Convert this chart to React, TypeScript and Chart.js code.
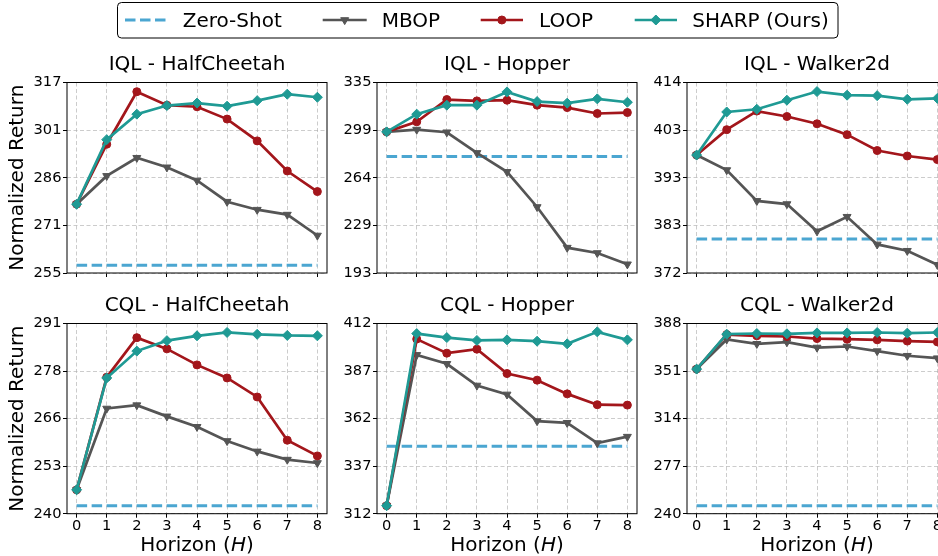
import React, { useEffect, useRef } from "react";
import { Chart, registerables } from "chart.js";

Chart.register(...registerables);

const FONT = "'DejaVu Sans', 'Noto Sans', sans-serif";
Chart.defaults.font.family = FONT;
Chart.defaults.color = "#000";

// ---------- data ----------
const horizons = [0, 1, 2, 3, 4, 5, 6, 7, 8];
const seriesNames = ["Zero-Shot", "MBOP", "LOOP", "SHARP (Ours)"];
const panelTitles = [
  "IQL - HalfCheetah",
  "IQL - Hopper",
  "IQL - Walker2d",
  "CQL - HalfCheetah",
  "CQL - Hopper",
  "CQL - Walker2d",
];
const yAxisTitle = "Normalized Return";

// IQL - HalfCheetah
const iqlHalfCheetahZeroShot = 257.5;
const iqlHalfCheetahMBOP = [277.4, 286.6, 292.5, 289.4, 285.1, 278.2, 275.6, 274.0, 267.2];
const iqlHalfCheetahLOOP = [277.4, 296.9, 314.0, 309.6, 309.1, 305.1, 298.0, 288.2, 281.5];
const iqlHalfCheetahSHARP = [277.4, 298.4, 306.7, 309.5, 310.3, 309.3, 311.1, 313.2, 312.2];
const iqlHalfCheetahYTicks = [255, 271, 286, 301, 317];

// IQL - Hopper
const iqlHopperZeroShot = 279.8;
const iqlHopperMBOP = [298.2, 299.9, 297.9, 282.5, 268.4, 242.2, 211.9, 207.9, 199.5];
const iqlHopperLOOP = [298.2, 305.7, 322.3, 321.3, 321.8, 318.1, 316.3, 311.9, 312.6];
const iqlHopperSHARP = [298.2, 311.4, 318.1, 318.1, 328.0, 320.8, 319.6, 322.8, 320.3];
const iqlHopperYTicks = [193, 229, 264, 299, 335];

// IQL - Walker2d
const iqlWalkerZeroShot = 379.5;
const iqlWalkerMBOP = [398.0, 394.7, 387.9, 387.2, 381.2, 384.4, 378.3, 376.9, 373.8];
const iqlWalkerLOOP = [398.0, 403.6, 407.7, 406.5, 404.9, 402.5, 399.0, 397.8, 397.0];
const iqlWalkerSHARP = [398.0, 407.5, 408.1, 410.1, 412.0, 411.2, 411.1, 410.3, 410.5];
const iqlWalkerYTicks = [372, 383, 393, 403, 414];

// CQL - HalfCheetah
const cqlHalfCheetahZeroShot = 242.1;
const cqlHalfCheetahMBOP = [246.4, 268.2, 269.1, 266.1, 263.3, 259.5, 256.7, 254.5, 253.6];
const cqlHalfCheetahLOOP = [246.4, 276.6, 287.2, 284.2, 279.9, 276.4, 271.3, 259.7, 255.5];
const cqlHalfCheetahSHARP = [246.4, 276.4, 283.6, 286.4, 287.7, 288.6, 288.1, 287.8, 287.7];
const cqlHalfCheetahYTicks = [240, 253, 266, 278, 291];

// CQL - Hopper
const cqlHopperZeroShot = 347.4;
const cqlHopperMBOP = [316.2, 395.5, 390.8, 379.4, 374.7, 360.7, 359.8, 349.1, 352.5];
const cqlHopperLOOP = [316.2, 403.8, 396.4, 398.5, 385.7, 382.2, 375.0, 369.3, 369.1];
const cqlHopperSHARP = [316.2, 406.7, 404.6, 403.1, 403.4, 402.7, 401.3, 407.6, 403.4];
const cqlHopperYTicks = [312, 337, 362, 387, 412];

// CQL - Walker2d
const cqlWalkerZeroShot = 246.2;
const cqlWalkerMBOP = [352.5, 375.6, 372.2, 373.5, 369.3, 370.1, 366.5, 362.9, 361.0];
const cqlWalkerLOOP = [352.5, 379.4, 378.4, 377.9, 376.3, 375.8, 375.3, 374.3, 373.7];
const cqlWalkerSHARP = [352.5, 379.7, 380.2, 380.0, 380.7, 380.7, 381.0, 380.5, 381.0];
const cqlWalkerYTicks = [240, 277, 314, 351, 388];

// ---------- styling ----------
const COLORS = {
  zero: "#4ba6d1",
  mbop: "#555555",
  loop: "#a3161b",
  sharp: "#1f9a94",
};

const PANEL_LEFTS = [67, 377, 687];
const PLOT_W = 260;
const YAXIS_W = 67;
const RIGHT_PAD = 12;
const ROWS = [
  { top: 40, height: 245, xHeight: 12 },
  { top: 281, height: 275, xHeight: 42.3 },
];

type PanelData = {
  title: string;
  zero: number;
  mbop: number[];
  loop: number[];
  sharp: number[];
  yTicks: number[];
};

const panels: PanelData[] = [
  { title: panelTitles[0], zero: iqlHalfCheetahZeroShot, mbop: iqlHalfCheetahMBOP, loop: iqlHalfCheetahLOOP, sharp: iqlHalfCheetahSHARP, yTicks: iqlHalfCheetahYTicks },
  { title: panelTitles[1], zero: iqlHopperZeroShot, mbop: iqlHopperMBOP, loop: iqlHopperLOOP, sharp: iqlHopperSHARP, yTicks: iqlHopperYTicks },
  { title: panelTitles[2], zero: iqlWalkerZeroShot, mbop: iqlWalkerMBOP, loop: iqlWalkerLOOP, sharp: iqlWalkerSHARP, yTicks: iqlWalkerYTicks },
  { title: panelTitles[3], zero: cqlHalfCheetahZeroShot, mbop: cqlHalfCheetahMBOP, loop: cqlHalfCheetahLOOP, sharp: cqlHalfCheetahSHARP, yTicks: cqlHalfCheetahYTicks },
  { title: panelTitles[4], zero: cqlHopperZeroShot, mbop: cqlHopperMBOP, loop: cqlHopperLOOP, sharp: cqlHopperSHARP, yTicks: cqlHopperYTicks },
  { title: panelTitles[5], zero: cqlWalkerZeroShot, mbop: cqlWalkerMBOP, loop: cqlWalkerLOOP, sharp: cqlWalkerSHARP, yTicks: cqlWalkerYTicks },
];

const framePlugin = {
  id: "frame",
  afterDraw(chart: any) {
    const { ctx, chartArea: a } = chart;
    ctx.save();
    ctx.strokeStyle = "#000";
    ctx.lineWidth = 1;
    ctx.setLineDash([]);
    ctx.strokeRect(a.left, a.top, a.right - a.left, a.bottom - a.top);
    ctx.restore();
  },
};

const xy = (vals: number[]) => vals.map((v, i) => ({ x: horizons[i], y: v }));

function Panel({ index }: { index: number }) {
  const ref = useRef<HTMLCanvasElement>(null);
  const row = Math.floor(index / 3);
  const col = index % 3;
  const r = ROWS[row];
  const width = YAXIS_W + PLOT_W + RIGHT_PAD;
  const left = PANEL_LEFTS[col] - YAXIS_W;

  useEffect(() => {
    const p = panels[index];
    const yMin = p.yTicks[0];
    const yMax = p.yTicks[p.yTicks.length - 1];
    const bottomRow = row === 1;
    const grid = {
      color: "rgba(170,170,170,0.75)",
      lineWidth: 0.8,
      tickColor: "#000",
      tickWidth: 1,
      tickLength: 4,
      tickBorderDash: [],
    };
    const border = { display: false, dash: [4, 2.5] };
    const tickFont = { size: 14.67, lineHeight: 1.1, family: FONT };

    const chart = new Chart(ref.current as HTMLCanvasElement, {
      type: "line",
      data: {
        datasets: [
          {
            label: seriesNames[3],
            data: xy(p.sharp),
            borderColor: COLORS.sharp,
            backgroundColor: COLORS.sharp,
            pointBackgroundColor: COLORS.sharp,
            pointBorderColor: COLORS.sharp,
            pointStyle: "rectRot",
            pointRadius: 5,
            pointBorderWidth: 1,
            borderWidth: 2.7,
            tension: 0,
            order: 0,
          },
          {
            label: seriesNames[2],
            data: xy(p.loop),
            borderColor: COLORS.loop,
            backgroundColor: COLORS.loop,
            pointBackgroundColor: COLORS.loop,
            pointBorderColor: COLORS.loop,
            pointStyle: "circle",
            pointRadius: 4,
            pointBorderWidth: 1,
            borderWidth: 2.7,
            tension: 0,
            order: 1,
          },
          {
            label: seriesNames[1],
            data: xy(p.mbop),
            borderColor: COLORS.mbop,
            backgroundColor: COLORS.mbop,
            pointBackgroundColor: COLORS.mbop,
            pointBorderColor: COLORS.mbop,
            pointStyle: "triangle",
            pointRotation: 180,
            pointRadius: 4.6,
            pointBorderWidth: 1,
            borderWidth: 2.7,
            tension: 0,
            order: 2,
          },
          {
            label: seriesNames[0],
            data: horizons.map((h) => ({ x: h, y: p.zero })),
            borderColor: COLORS.zero,
            backgroundColor: COLORS.zero,
            borderDash: [10.5, 4.5],
            borderWidth: 3,
            pointRadius: 0,
            tension: 0,
            order: 3,
          },
        ],
      },
      options: {
        responsive: false,
        animation: false,
        devicePixelRatio: 1,
        events: [],
        layout: { padding: { left: 0, right: RIGHT_PAD, top: 0, bottom: 0 } },
        plugins: {
          legend: { display: false },
          tooltip: { enabled: false },
          title: {
            display: true,
            fullSize: false,
            align: "center",
            text: p.title,
            color: "#000",
            font: { size: 20, weight: "normal", family: FONT, lineHeight: 1.2 },
            padding: { top: 13, bottom: 5.5 },
          },
        },
        scales: {
          x: {
            type: "linear",
            min: -0.32,
            max: 8.32,
            afterBuildTicks: (s: any) => {
              s.ticks = horizons.map((v) => ({ value: v }));
            },
            afterFit: (s: any) => {
              s.height = r.xHeight;
            },
            ticks: {
              display: bottomRow,
              padding: 0,
              color: "#000",
              font: tickFont,
              autoSkip: false,
              maxRotation: 0,
              callback: (v: any) => String(v),
            },
            grid,
            border,
          },
          y: {
            type: "linear",
            min: yMin,
            max: yMax,
            afterBuildTicks: (s: any) => {
              s.ticks = p.yTicks.map((_, i) => ({
                value: yMin + ((yMax - yMin) * i) / (p.yTicks.length - 1),
              }));
            },
            afterFit: (s: any) => {
              s.width = YAXIS_W;
            },
            ticks: {
              padding: 1.5,
              color: "#000",
              font: tickFont,
              autoSkip: false,
              callback: (_v: any, i: number) => String(p.yTicks[i]),
            },
            title: {
              display: col === 0,
              text: yAxisTitle,
              color: "#000",
              font: { size: 20, family: FONT, lineHeight: 1.2 },
              padding: { top: 6, bottom: 0 },
            },
            grid,
            border,
          },
        },
      } as any,
      plugins: [framePlugin],
    });
    return () => chart.destroy();
  }, []);

  return (
    <canvas
      ref={ref}
      width={width}
      height={r.height}
      style={{ position: "absolute", left, top: r.top, width, height: r.height }}
    />
  );
}

function Legend() {
  const cy = 20;
  const items = [
    { name: seriesNames[0], x1: 125, x2: 166, tx: 182.7, color: COLORS.zero, kind: "dash" },
    { name: seriesNames[1], x1: 322.7, x2: 366.7, tx: 381.7, color: COLORS.mbop, kind: "tri" },
    { name: seriesNames[2], x1: 480.7, x2: 523, tx: 539, color: COLORS.loop, kind: "circle" },
    { name: seriesNames[3], x1: 634.7, x2: 677, tx: 692.3, color: COLORS.sharp, kind: "diamond" },
  ];
  return (
    <svg width={938} height={45} style={{ position: "absolute", left: 0, top: 0 }}>
      <rect x={117.5} y={2.5} width={720.5} height={35.5} rx={4} ry={4} fill="#fff" stroke="#000" strokeWidth={1} />
      {items.map((it) => {
        const cx = (it.x1 + it.x2) / 2;
        let marker: any = null;
        if (it.kind === "tri") {
          const rr = 4.6;
          const s = rr * Math.sin(Math.PI / 3);
          marker = (
            <polygon
              points={`${cx},${cy + rr} ${cx - s},${cy - rr / 2} ${cx + s},${cy - rr / 2}`}
              fill={it.color}
              stroke={it.color}
              strokeWidth={1}
            />
          );
        } else if (it.kind === "circle") {
          marker = <circle cx={cx} cy={cy} r={4} fill={it.color} stroke={it.color} strokeWidth={1} />;
        } else if (it.kind === "diamond") {
          const rr = 5;
          marker = (
            <polygon
              points={`${cx},${cy - rr} ${cx + rr},${cy} ${cx},${cy + rr} ${cx - rr},${cy}`}
              fill={it.color}
              stroke={it.color}
              strokeWidth={1}
            />
          );
        }
        return (
          <g key={it.name}>
            <line
              x1={it.x1}
              x2={it.x2}
              y1={cy}
              y2={cy}
              stroke={it.color}
              strokeWidth={it.kind === "dash" ? 3 : 2.7}
              strokeDasharray={it.kind === "dash" ? "10.5 4.5" : undefined}
            />
            {marker}
            <text x={it.tx} y={26.7} fontFamily={FONT} fontSize={20} fill="#000">
              {it.name}
            </text>
          </g>
        );
      })}
    </svg>
  );
}

export default function App() {
  return (
    <div
      style={{
        position: "fixed",
        left: 0,
        top: 0,
        width: 938,
        height: 556,
        overflow: "hidden",
        background: "#fff",
        fontFamily: FONT,
      }}
    >
      {panels.map((_, i) => (
        <Panel key={i} index={i} />
      ))}
      {PANEL_LEFTS.map((pl, i) => (
        <div
          key={i}
          style={{
            position: "absolute",
            left: pl + PLOT_W / 2 - 100,
            top: 531.8,
            width: 200,
            textAlign: "center",
            fontSize: 20,
            lineHeight: "24px",
            fontFamily: FONT,
            color: "#000",
          }}
        >
          Horizon (<i>H</i>)
        </div>
      ))}
      <Legend />
    </div>
  );
}
